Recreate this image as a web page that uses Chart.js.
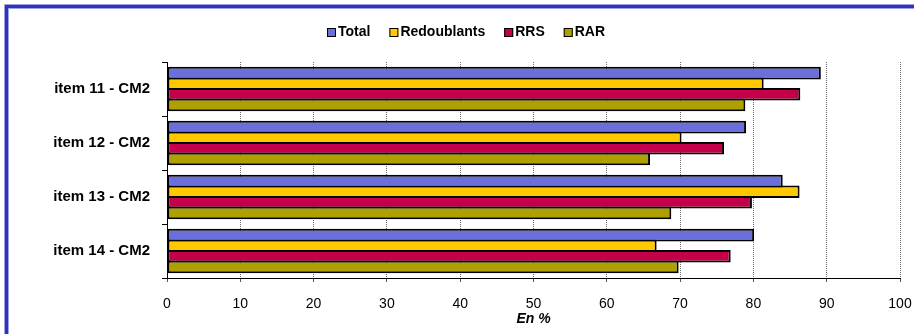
<!DOCTYPE html>
<html>
<head>
<meta charset="utf-8">
<script src="https://cdn.jsdelivr.net/npm/chart.js@4/dist/chart.umd.min.js"></script>
<style>
  html, body { margin: 0; padding: 0; background: #ffffff; }
  canvas { display: block; background: #ffffff; }
</style>
</head>
<body>
<canvas id="chart" width="914" height="334"></canvas>
<script>
// Item labels (one per row of bars)
const categories = ['item 11 - CM2', 'item 12 - CM2', 'item 13 - CM2', 'item 14 - CM2'];

// Series names and their values, in %
const seriesNames = ['Total', 'Redoublants', 'RRS', 'RAR'];
const total       = [89.2, 79.0, 84.0, 80.1];
const redoublants = [81.4, 70.2, 86.3, 66.8];
const rrs         = [86.4, 76.0, 79.8, 76.9];
const rar         = [78.9, 65.9, 68.8, 69.8];

// Horizontal axis ticks and title
const xTicks = [0, 10, 20, 30, 40, 50, 60, 70, 80, 90, 100];
const axisTitle = 'En %';

const seriesColors = ['#6a6fdc', '#ffc800', '#c4004a', '#ada000'];
const seriesValues = [total, redoublants, rrs, rar];

const FONT = '"Liberation Sans", Arial, Helvetica, sans-serif';

// Blue frame around the whole figure (top and left edges visible)
const framePlugin = {
  id: 'frame',
  afterDraw(chart) {
    const ctx = chart.ctx;
    ctx.save();
    ctx.strokeStyle = '#a0a2e2';
    ctx.lineWidth = 5;
    ctx.strokeRect(6.5, 6.5, 930, 360);
    ctx.strokeStyle = '#2e33b9';
    ctx.lineWidth = 3;
    ctx.strokeRect(6.5, 6.5, 930, 360);
    ctx.restore();
  }
};

// Compact legend row: small bordered square followed by bold label
const legendPlugin = {
  id: 'compactLegend',
  afterDraw(chart) {
    const ctx = chart.ctx;
    ctx.save();
    ctx.font = 'bold 14px ' + FONT;
    ctx.textBaseline = 'middle';
    ctx.textAlign = 'left';
    let x = 327;
    const cy = 32.5;
    chart.data.datasets.forEach(ds => {
      ctx.fillStyle = ds.backgroundColor;
      ctx.fillRect(x, cy - 4.5, 9, 9);
      ctx.strokeStyle = '#000';
      ctx.lineWidth = 1;
      ctx.strokeRect(x + 0.5, cy - 4, 8, 8);
      ctx.fillStyle = '#000';
      ctx.fillText(ds.label, x + 11, cy);
      x += 11 + ctx.measureText(ds.label).width + 19;
    });
    ctx.restore();
  }
};

new Chart(document.getElementById('chart'), {
  type: 'bar',
  data: {
    labels: categories,
    datasets: seriesNames.map((name, i) => ({
      label: name,
      data: seriesValues[i],
      backgroundColor: seriesColors[i],
      borderColor: '#000000',
      borderWidth: 2,
      borderSkipped: false,
      barPercentage: 1.19,
      categoryPercentage: 0.785
    }))
  },
  options: {
    indexAxis: 'y',
    responsive: false,
    devicePixelRatio: 1,
    animation: false,
    layout: { padding: { top: 62, right: 14, bottom: 0, left: 0 } },
    plugins: {
      legend: { display: false },
      tooltip: { enabled: false },
      title: { display: false }
    },
    scales: {
      x: {
        type: 'linear',
        min: 0,
        max: 100,
        afterBuildTicks(scale) { scale.ticks = xTicks.map(v => ({ value: v })); },
        afterFit(scale) {
          scale.height = 56;
          scale.paddingRight = 0;
          scale.paddingLeft = 0;
        },
        ticks: {
          color: '#000',
          font: { family: FONT, size: 14 },
          padding: 14,
          callback: v => String(v)
        },
        grid: {
          color: '#6a6a6a',
          lineWidth: 1,
          tickLength: 4,
          tickColor: '#555',
          tickBorderDash: []
        },
        border: { display: true, color: '#000', width: 1, dash: [1, 1] },
        title: {
          display: true,
          text: axisTitle,
          color: '#000',
          font: { family: FONT, size: 14, weight: 'bold', style: 'italic' },
          padding: { top: 0, bottom: 6 }
        }
      },
      y: {
        type: 'category',
        offset: true,
        afterFit(scale) { scale.width = 167; },
        ticks: {
          color: '#000',
          font: { family: FONT, size: 15, weight: 'bold' },
          padding: 12
        },
        grid: {
          offset: true,
          drawOnChartArea: false,
          drawTicks: true,
          tickLength: 5,
          tickColor: '#000'
        },
        border: { display: true, color: '#000', width: 1 }
      }
    }
  },
  plugins: [framePlugin, legendPlugin]
});
</script>
</body>
</html>
